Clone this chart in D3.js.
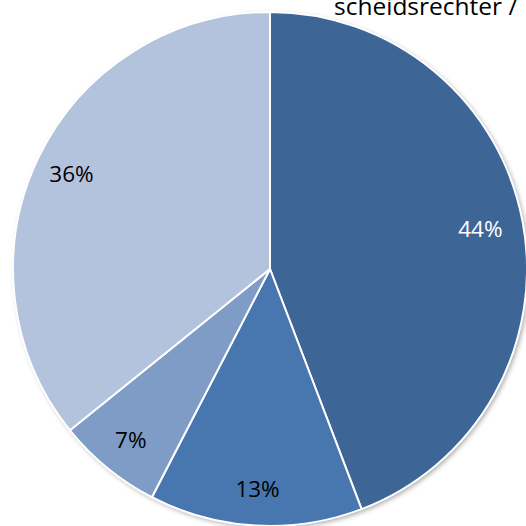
<!DOCTYPE html>
<html><head><meta charset="utf-8">
<script src="https://cdn.jsdelivr.net/npm/d3@7"></script>
<style>html,body{margin:0;padding:0;background:#fff;overflow:hidden}</style>
</head><body>
<svg id="c" width="526" height="526"></svg>
<script>
const categories = ["A", "B", "C", "D"];
const values = [44.2, 13.4, 6.6, 35.8];
const labels = ["44%", "13%", "7%", "36%"];
const colors = ["#3D6696", "#4877AF", "#7F9CC6", "#B4C3DD"];
const labelColors = ["#ffffff", "#000000", "#000000", "#000000"];
const titleText = "scheidsrechter /";

const svg = d3.select("#c");
const cx = 270, cy = 269, R = 257;
const defs = svg.append("defs");
const f = defs.append("filter").attr("id","sh").attr("x","-10%").attr("y","-10%").attr("width","120%").attr("height","120%");
f.append("feDropShadow").attr("dx",2).attr("dy",2).attr("stdDeviation",2.5).attr("flood-color","#000").attr("flood-opacity",0.35);

const g = svg.append("g").attr("transform",`translate(${cx},${cy})`);
const pie = d3.pie().sort(null).value(d=>d);
const arcs = pie(values);
const arc = d3.arc().innerRadius(0).outerRadius(R);
const color = d3.scaleOrdinal().domain(categories).range(colors);

g.append("circle").attr("r",R).attr("fill","#fff").attr("filter","url(#sh)");
g.selectAll("path.s").data(arcs).join("path").attr("class","s")
  .attr("d",arc).attr("fill",(d,i)=>color(categories[i]))
  .attr("stroke","#fff").attr("stroke-width",2).attr("stroke-linejoin","round");

const larc = d3.arc().innerRadius(220).outerRadius(220);
g.selectAll("text.l").data(arcs).join("text").attr("class","l")
  .attr("transform",(d,i)=>{const c=larc.centroid(d); if(i===0){c[0]-=6;} return `translate(${c})`;})
  .attr("text-anchor","middle").attr("dy","0.36em")
  .attr("font-family","'Open Sans', sans-serif").attr("font-size",22.5)
  .attr("fill",(d,i)=>labelColors[i]).text((d,i)=>labels[i]);

svg.append("text").attr("x",334).attr("y",15)
  .attr("font-family","'Open Sans', sans-serif").attr("font-size",24.5)
  .attr("fill","#000").text(titleText);
</script>
</body></html>
